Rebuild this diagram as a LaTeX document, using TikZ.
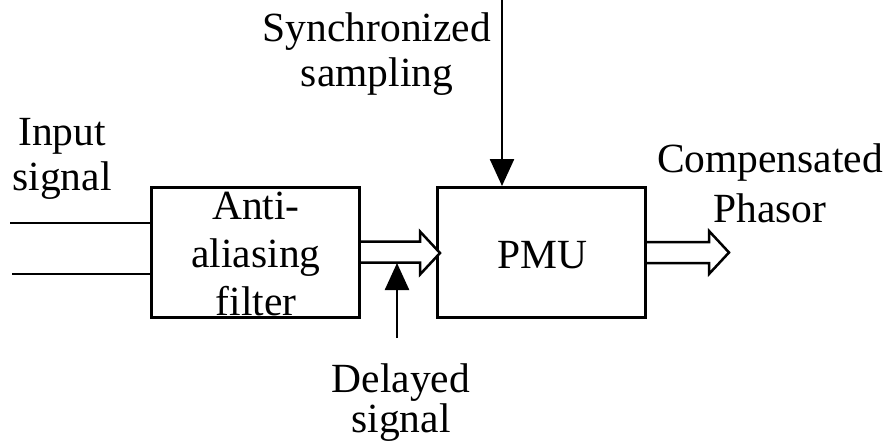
\documentclass[tikz,border=0pt]{standalone}
\usepackage{fontspec}
\setmainfont{Liberation Serif}
\usetikzlibrary{arrows.meta}

\begin{document}
\begin{tikzpicture}[x=1pt,y=-1pt,
		block/.style={draw,line width=3pt,minimum width=208pt,minimum height=130pt,inner sep=0pt},
		txt/.style={font=\fontsize{41.5}{45}\selectfont,align=center,inner sep=0pt,anchor=base},
		wire/.style={line width=2.5pt},
		pin/.style={line width=2.5pt,-{Triangle[length=27pt,width=24pt]}},
		fat/.style={line width=2.5pt,line join=miter,fill=white}]
	\useasboundingbox (0,0) rectangle (888,441);

	% blocks
	\node (filter) [block] at (255.5,252.5) {};
	\node (pmu) [block] at (541.5,252.5) {};
	\node (filtertxt) [txt] at (256,315) {Anti-\\[3pt]aliasing\\[3pt]filter};
	\node (pmutxt) [txt] at (542,268) {PMU};

	% labels
	\node (input) [txt] at (62,190) {Input\\signal};
	\node (sync) [txt] at (377,87) {Synchronized\\sampling};
	\node (comp) [txt] at (770,222) {Compensated\\[5pt]Phasor};
	\node (delayed) [txt] at (401,432) {Delayed\\[-5pt]signal};

	% input lines
	\coordinate (in1) at (10,223);
	\coordinate (in2) at (12,274);
	\draw [wire] (in1) -- (in1 -| filter.west);
	\draw [wire] (in2) -- (in2 -| filter.west);

	% hollow arrows
	\draw [fat] ([shift={(0,-11)}]filter.east) -- ++(59,0) -- ++(0,-10) -- ++(20,21.5)
		-- ++(-20,21.5) -- ++(0,-12) -- ++(-59,0);
	\draw [fat] ([shift={(0,-10.5)}]pmu.east) -- ++(62,0) -- ++(0,-11) -- ++(20,21.5)
		-- ++(-20,21.5) -- ++(0,-11) -- ++(-62,0);

	% sampling and delay
	\coordinate (syncin) at (502,0);
	\draw [pin] (syncin) -- (syncin |- pmu.north);
	\coordinate (delayin) at (397,338);
	\coordinate (delayout) at (397,263);
	\draw [pin] (delayin) -- (delayout);
\end{tikzpicture}
\end{document}
